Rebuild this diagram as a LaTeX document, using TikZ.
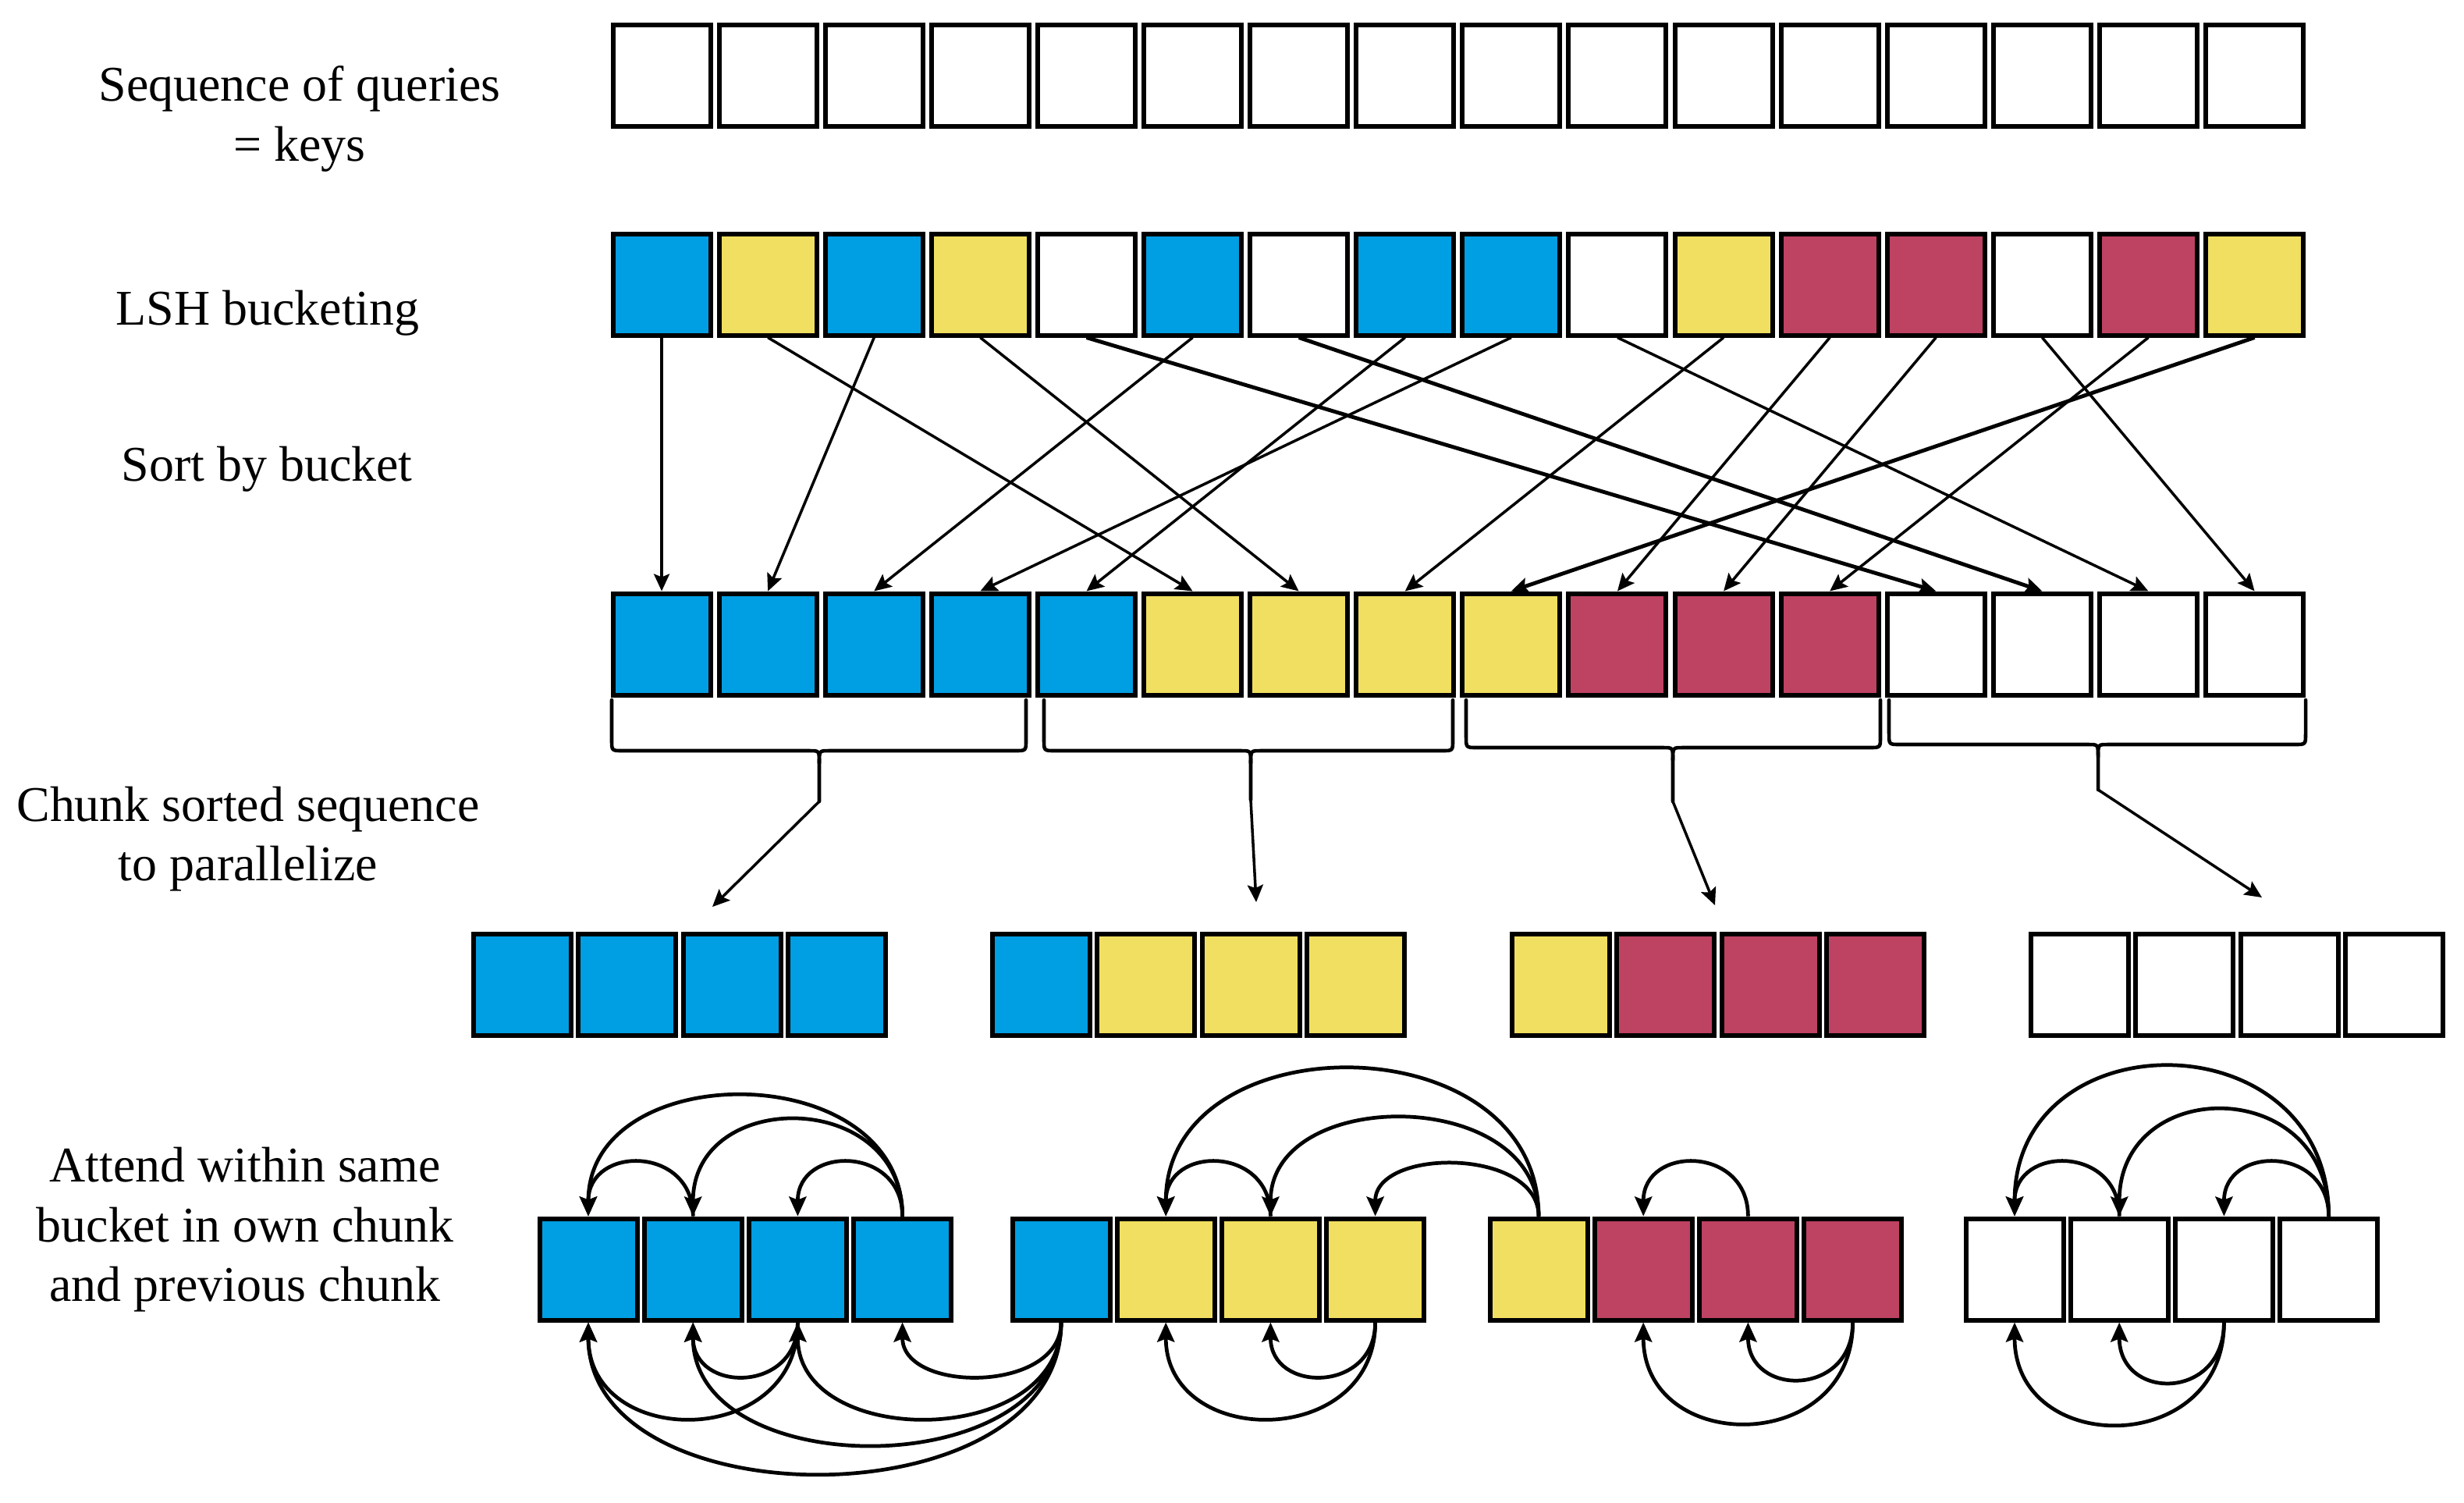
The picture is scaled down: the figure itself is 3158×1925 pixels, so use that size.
\documentclass[tikz,border=0pt]{standalone}
\usepackage{fontspec}
\setmainfont{Liberation Serif}
\newfontfamily\lblfont{Liberation Serif}
\usetikzlibrary{arrows.meta}
\definecolor{cblue}{RGB}{0,158,226}
\definecolor{cyel}{RGB}{240,223,96}
\definecolor{cred}{RGB}{190,66,98}
\newcommand\mybrace[7]{%
  \draw[bracestyle] (#1,#4) -- (#1,#5-14) .. controls (#1,#5) .. (#1+14,#5) -- (#3-12,#5) .. controls (#3,#5) .. (#3,#5+16) -- (#3,#6);
  \draw[bracestyle] (#2,#4) -- (#2,#5-14) .. controls (#2,#5) .. (#2-14,#5) -- (#3+12,#5) .. controls (#3,#5) .. (#3,#5+16);
  \coordinate (#7) at (#3,#6);
}
\begin{document}
\begin{tikzpicture}[x=0.1mm,y=-0.1mm,
  cell/.style={draw=black, line width=0.6mm, minimum width=12.5mm, minimum height=13mm, inner sep=0pt},
  arr/.style={-{Stealth[length=2.2mm,width=2mm,inset=0.4mm]}, line width=1pt},
  thickarr/.style={arr, line width=1.4pt},
  arc/.style={-{Stealth[length=2.5mm,width=2.2mm,inset=0.4mm]}, line width=1.35pt},
  bracestyle/.style={line width=1.3pt, line cap=round},
  lbl/.style={font=\lblfont\fontsize{18.2}{21.6}\selectfont, anchor=base, inner sep=0pt}]
\useasboundingbox (0,0) rectangle (3158,1925);

% labels
\node[lbl] (t1a) at (384,129) {Sequence of queries};
\node[lbl] (t1b) at (384,206) {= keys};
\node[lbl] (t2) at (343,416) {LSH bucketing};
\node[lbl] (t3) at (342,616) {Sort by bucket};
\node[lbl] (t4a) at (318,1052) {Chunk sorted sequence};
\node[lbl] (t4b) at (318,1128) {to parallelize};
\node[lbl] (t5a) at (314,1514) {Attend within same};
\node[lbl] (t5b) at (314,1591) {bucket in own chunk};
\node[lbl] (t5c) at (314,1667) {and previous chunk};

% top row
\foreach \i in {0,...,15} \node[cell, fill=white] (A\i) at ({848.05+136.1*\i},96.5) {};
% LSH row
\foreach \c [count=\i from 0] in {cblue,cyel,cblue,cyel,white,cblue,white,cblue,cblue,white,cyel,cred,cred,white,cred,cyel}
  \node[cell, fill=\c] (L\i) at ({848.05+136.1*\i},364.5) {};
% sorted row
\foreach \c [count=\i from 0] in {cblue,cblue,cblue,cblue,cblue,cyel,cyel,cyel,cyel,cred,cred,cred,white,white,white,white}
  \node[cell, fill=\c] (S\i) at ({848.05+136.1*\i},825.5) {};
% chunk row
\foreach \n/\x/\c in {0/669.25/cblue,1/803.75/cblue,2/938.25/cblue,3/1072.75/cblue,
  4/1334.25/cblue,5/1468.75/cyel,6/1603.25/cyel,7/1737.75/cyel,
  8/2000.25/cyel,9/2134.75/cred,10/2269.25/cred,11/2403.75/cred,
  12/2665.25/white,13/2799.75/white,14/2934.25/white,15/3068.75/white}
  \node[cell, fill=\c] (C\n) at (\x,1261.5) {};
% bottom row
\foreach \n/\x/\c in {0/754/cblue,1/888.2/cblue,2/1022.4/cblue,3/1156.6/cblue,
  4/1360/cblue,5/1494.2/cyel,6/1628.4/cyel,7/1762.6/cyel,
  8/1972/cyel,9/2106.2/cred,10/2240.4/cred,11/2374.6/cred,
  12/2582/white,13/2716.2/white,14/2850.4/white,15/2984.6/white}
  \node[cell, fill=\c] (B\n) at (\x,1626.5) {};

% sorting arrows
\foreach \a/\b in {0/0,1/5,2/1,3/6,5/2,7/4,8/3,9/14,10/7,11/9,12/10,13/15,14/11}
  \draw[arr] (L\a.south) -- (S\b.north);
\foreach \a/\b in {4/12,6/13,15/8}
  \draw[thickarr] (L\a.south) -- (S\b.north);

% braces
\mybrace{784}{1315}{1050}{897}{962}{1027}{bt1}
\mybrace{1338}{1862}{1603}{897}{962}{1025}{bt2}
\mybrace{1879}{2410}{2144}{897}{958}{1027}{bt3}
\mybrace{2421}{2955}{2689}{897}{954}{1012}{bt4}
\coordinate (e1) at (913,1162);
\coordinate (e2) at (1610,1156);
\coordinate (e3) at (2198,1160);
\coordinate (e4) at (2899,1150);
\draw[arr] (bt1) -- (e1);
\draw[arr] (bt2) -- (e2);
\draw[arr] (bt3) -- (e3);
\draw[arr] (bt4) -- (e4);

% attention arcs above (source/target/control offset = 4h/3)
\foreach \s/\t/\k in {1/0/91,3/2/91,3/1/164,3/0/205,
  6/5/91,8/7/88,8/6/167,8/5/251,
  10/9/91,
  13/12/91,15/14/91,15/13/181,15/12/255}
  \draw[arc] (B\s.north) .. controls +(0,-\k) and +(0,-\k) .. (B\t.north);
% attention arcs below
\foreach \s/\t/\k in {2/1/91,4/3/91,2/0/163,4/2/163,4/1/208,4/0/257,
  7/6/91,7/5/163,
  11/10/96,11/9/171,
  14/13/101,14/12/173}
  \draw[arc] (B\s.south) .. controls +(0,\k) and +(0,\k) .. (B\t.south);
\end{tikzpicture}
\end{document}
